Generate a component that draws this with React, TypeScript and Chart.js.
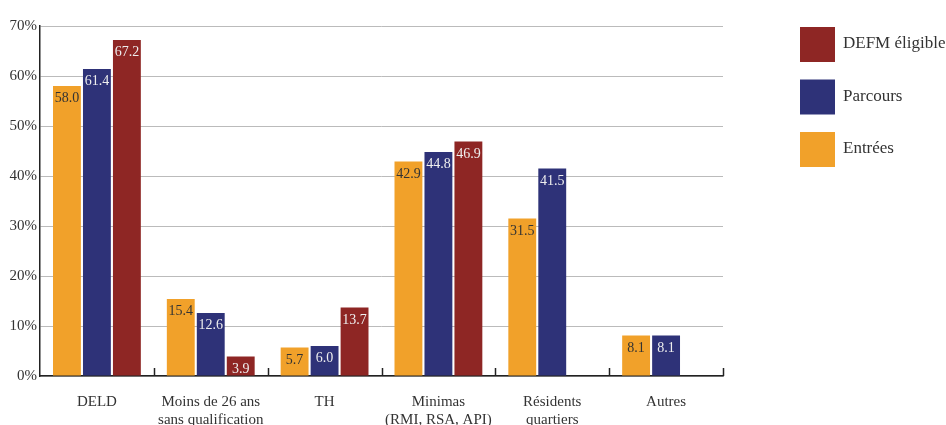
import React, { useEffect, useRef } from "react";
import { Chart, registerables } from "chart.js";

Chart.register(...registerables);

const categories: (string | string[])[] = [
  "DELD",
  ["Moins de 26 ans", "sans qualification"],
  "TH",
  ["Minimas", "(RMI, RSA, API)"],
  ["Résidents", "quartiers"],
  "Autres",
];
const entrees: (number | null)[] = [58.0, 15.4, 5.7, 42.9, 31.5, 8.1];
const parcours: (number | null)[] = [61.4, 12.6, 6.0, 44.8, 41.5, 8.1];
const defm: (number | null)[] = [67.2, 3.9, 13.7, 46.9, null, null];
const yTicks = [0, 10, 20, 30, 40, 50, 60, 70];

const ORANGE = "#F1A12A";
const BLUE = "#2E3278";
const RED = "#8E2624";
const FONT = "'Liberation Serif', 'Times New Roman', serif";

const valueLabels = {
  id: "valueLabels",
  afterDatasetsDraw(chart: any) {
    const ctx = chart.ctx;
    ctx.save();
    ctx.font = `14px ${FONT}`;
    ctx.textAlign = "center";
    ctx.textBaseline = "middle";
    chart.data.datasets.forEach((ds: any, di: number) => {
      const meta = chart.getDatasetMeta(di);
      meta.data.forEach((bar: any, i: number) => {
        const v = ds.data[i];
        if (v == null) return;
        ctx.fillStyle = di === 0 ? "#333" : "#eee";
        ctx.fillText(v.toFixed(1), bar.x, bar.y + 12.5);
      });
    });
    ctx.restore();
  },
};

const catTicks = {
  id: "catTicks",
  afterDraw(chart: any) {
    const ctx = chart.ctx;
    const area = chart.chartArea;
    const n = chart.data.labels.length;
    const w = (area.right - area.left) / n;
    ctx.save();
    ctx.strokeStyle = "#222";
    ctx.lineWidth = 1.5;
    for (let i = 1; i <= n; i++) {
      const px = Math.round(area.left + i * w) + 0.5;
      ctx.beginPath();
      ctx.moveTo(px, area.bottom);
      ctx.lineTo(px, area.bottom - 8);
      ctx.stroke();
    }
    ctx.restore();
  },
};

const customLegend = {
  id: "customLegend",
  afterDraw(chart: any) {
    const ctx = chart.ctx;
    const ds = [...chart.data.datasets].reverse();
    ctx.save();
    ctx.font = `17px ${FONT}`;
    ctx.textBaseline = "middle";
    ctx.textAlign = "left";
    ds.forEach((d: any, i: number) => {
      const top = 27 + i * 52.5;
      ctx.fillStyle = d.backgroundColor;
      ctx.fillRect(800, top, 35, 35);
      ctx.fillStyle = "#333";
      ctx.fillText(d.label, 843, top + 17);
    });
    ctx.restore();
  },
};

export default function App() {
  const ref = useRef<HTMLCanvasElement>(null);
  useEffect(() => {
    if (!ref.current) return;
    const mk = (label: string, data: (number | null)[], color: string) => ({
      label,
      data,
      backgroundColor: color,
      borderWidth: 0,
      barPercentage: 0.93,
      categoryPercentage: 0.79,
    });
    const chart = new Chart(ref.current, {
      type: "bar",
      data: {
        labels: categories as any,
        datasets: [
          mk("Entrées", entrees, ORANGE),
          mk("Parcours", parcours, BLUE),
          mk("DEFM éligible", defm, RED),
        ],
      },
      options: {
        animation: false,
        responsive: false,
        maintainAspectRatio: false,
        layout: { padding: { top: 26, left: 0, right: 223, bottom: 0 } },
        plugins: { legend: { display: false }, tooltip: { enabled: false } },
        scales: {
          x: {
            grid: { display: false, drawTicks: false },
            border: { display: true, color: "#222", width: 1.5 },
            ticks: {
              padding: 17,
              color: "#333",
              font: { family: FONT, size: 15, lineHeight: 1.2 },
              maxRotation: 0,
              autoSkip: false,
            },
            afterFit(scale: any) {
              scale.height = 49;
            },
          },
          y: {
            min: 0,
            max: 70,
            afterBuildTicks(scale: any) {
              scale.ticks = yTicks.map((v) => ({ value: v }));
            },
            grid: { color: "#bbb", lineWidth: 1, drawTicks: false },
            border: { display: true, color: "#222", width: 1.5 },
            ticks: {
              padding: 3,
              color: "#333",
              font: { family: FONT, size: 15 },
              callback: (v: any) => `${v}%`,
            },
            afterFit(scale: any) {
              scale.width = 40;
            },
          },
        },
      },
      plugins: [valueLabels, catTicks, customLegend],
    });
    return () => chart.destroy();
  }, []);
  return (
    <div style={{ position: "absolute", left: 0, top: 0, width: 946, height: 425, background: "#fff" }}>
      <canvas ref={ref} width={946} height={425} style={{ width: 946, height: 425 }} />
    </div>
  );
}
